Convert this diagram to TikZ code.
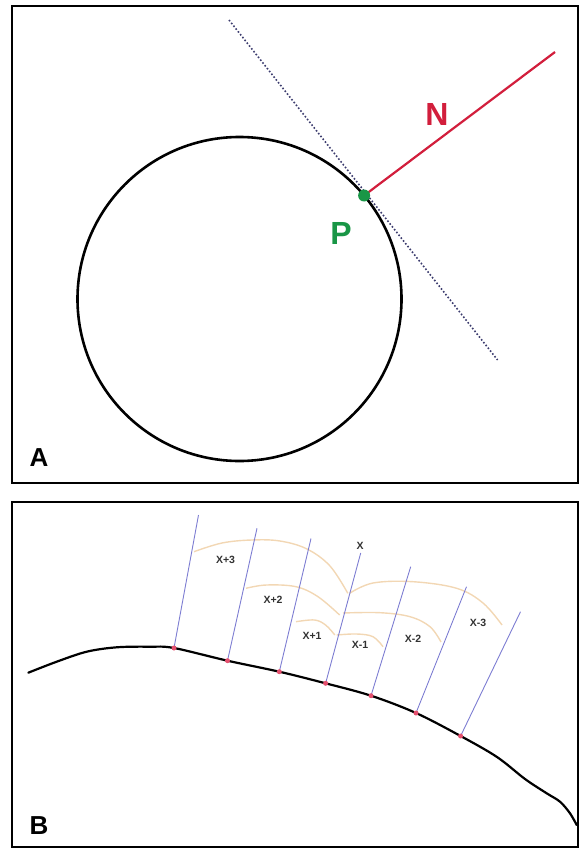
\documentclass[tikz,border=0pt]{standalone}
\usepackage{fontspec}
\setmainfont{Liberation Sans}
\definecolor{nred}{RGB}{210,30,60}
\definecolor{pgreen}{RGB}{25,150,70}
\definecolor{tanline}{RGB}{60,60,110}
\definecolor{gridblue}{RGB}{125,125,210}
\definecolor{arcorange}{RGB}{242,215,180}
\definecolor{ptred}{RGB}{228,80,110}
\definecolor{lblgrey}{RGB}{50,50,50}
\begin{document}
\begin{tikzpicture}[x=1pt,y=-1pt,
  frame/.style={draw=black,line width=2pt},
  panellabel/.style={font=\fontsize{26}{26}\selectfont\bfseries,inner sep=0pt},
  biglabel/.style={font=\fontsize{32}{32}\selectfont\bfseries,inner sep=0pt},
  small/.style={font=\fontsize{10.5}{10.5}\selectfont\bfseries,text=lblgrey,inner sep=0pt},
  gridline/.style={draw=gridblue,line width=0.9pt},
  arcline/.style={draw=arcorange,line width=1.4pt},
  ptdot/.style={circle,fill=ptred,inner sep=0pt,minimum size=5pt},
]
\useasboundingbox (0,0) rectangle (580,848);
% ---------- panel A ----------
\draw[frame] (12,6) rectangle (578,483);
\node[circle,draw=black,line width=2.6pt,minimum size=324pt,inner sep=0pt,outer sep=0pt] (C) at (239.5,299) {};
\coordinate (P) at (364.1,195.5);
\coordinate (T1) at (229,20);
\coordinate (T2) at (497.6,360);
\coordinate (Nend) at (555,52);
\draw[tanline,line width=1.6pt,dotted] (T1) -- (T2);
\draw[nred,line width=2.2pt] (P) -- (Nend);
\node[circle,fill=pgreen,inner sep=0pt,minimum size=12pt] (Pdot) at (P) {};
\node[biglabel,text=nred] (N) at (437,114) {N};
\node[biglabel,text=pgreen] (Plbl) at (341,233) {P};
\node[panellabel] (A) at (39,458) {A};
% ---------- panel B ----------
\draw[frame] (12,502) rectangle (578,847);
\coordinate (p1) at (174,648);
\coordinate (p2) at (227.5,660.7);
\coordinate (p3) at (279.3,671.7);
\coordinate (p4) at (325.6,683.3);
\coordinate (p5) at (371,695.7);
\coordinate (p6) at (416,713);
\coordinate (p7) at (460.6,736);
\coordinate (q1) at (198.5,515);
\coordinate (q2) at (257,528.3);
\coordinate (q3) at (311,538.5);
\coordinate (q4) at (360.7,553);
\coordinate (q5) at (410.7,566.7);
\coordinate (q6) at (466.5,586.7);
\coordinate (q7) at (520.5,611.7);
% arcs
\draw[arcline] plot[smooth,tension=0.6] coordinates {(194,551.7) (222,543) (251.6,540) (280,541) (307,549) (330,566) (347.8,593.3)};
\draw[arcline] plot[smooth,tension=0.6] coordinates {(246,588.3) (266.4,585) (296,586.7) (318,596.7) (339.6,615)};
\draw[arcline] plot[smooth,tension=0.6] coordinates {(296,621.7) (314.5,620) (325.6,625) (334.8,635)};
\draw[arcline] plot[smooth,tension=0.6] coordinates {(349.6,593.3) (373,583) (413,581.7) (456.7,588.3) (483,603) (502,625)};
\draw[arcline] plot[smooth,tension=0.6] coordinates {(343,613) (380,612.7) (410,616.7) (430,626.7) (441,642)};
\draw[arcline] plot[smooth,tension=0.6] coordinates {(336.7,635) (356.7,634) (373,636.7) (383,646.7)};
% normals
\foreach \i in {1,...,7} {\draw[gridline] (p\i) -- (q\i);}
% surface curve
\draw[black,line width=2.2pt,line join=round,line cap=round] plot[smooth,tension=0.55] coordinates {(28.3,672.7) (56.7,661.7) (86.7,651.7) (116.7,647.3) (150,646.7) (174,648) (227.5,660.7) (279.3,671.7) (325.6,683.3) (371,695.7) (416,713) (460.6,736) (497,757) (525,779) (546.7,793.3) (560,801.7) (570,813.3) (576.7,825)};
\foreach \i in {1,...,7} {\node[ptdot] (d\i) at (p\i) {};}
% labels
\node[small] (lx) at (360,546) {X};
\node[small] (l3) at (225.5,560) {X+3};
\node[small] (l2) at (273,599.5) {X+2};
\node[small] (l1) at (312,635.5) {X+1};
\node[small] (m1) at (360,645) {X-1};
\node[small] (m2) at (413,639.3) {X-2};
\node[small] (m3) at (478,623.3) {X-3};
\node[panellabel] (B) at (39,826) {B};
\end{tikzpicture}
\end{document}
